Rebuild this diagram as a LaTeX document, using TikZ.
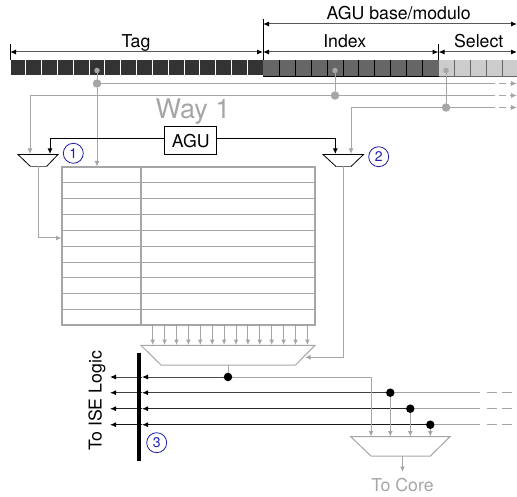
\documentclass[tikz,border=0pt]{standalone}
\usepackage{fontspec}
\setmainfont{TeX Gyre Heros}
\usetikzlibrary{arrows.meta}
\definecolor{wire}{gray}{0.65}
\definecolor{brk}{gray}{0.35}
\definecolor{numblue}{RGB}{30,30,170}
\tikzset{
  >={Latex[length=5.5pt,width=5pt]},
  lbl/.style={anchor=base,inner sep=0pt,font=\fontsize{17.7}{17.7}\selectfont},
  bracket/.style={brk,line width=1pt,{Latex[black,length=6pt,width=5pt]}-{Latex[black,length=6pt,width=5pt]}},
  tick/.style={black,line width=0.7pt},
  wireline/.style={wire,line width=1pt},
  wirearrow/.style={wire,line width=1pt,-{Latex[wire,length=5.5pt,width=5pt]}},
  ctrlarrow/.style={black,line width=1pt,-{Latex[black,length=5.5pt,width=5pt]}},
  dashtail/.style={wire,line width=1pt,dash pattern=on 10pt off 4pt on 7pt off 5pt},
  bigdot/.style={circle,fill=wire,inner sep=0pt,minimum size=8.5pt},
  smalldot/.style={circle,fill=wire,inner sep=0pt,minimum size=5.5pt},
  blackdot/.style={circle,fill=black,inner sep=0pt,minimum size=8.5pt},
  num/.style={circle,draw=numblue,line width=0.8pt,text=numblue,minimum size=20pt,inner sep=0pt,font=\fontsize{14}{14}\selectfont},
  muxg/.style={wire,line width=1pt,line join=miter},
}
\begin{document}
\begin{tikzpicture}[x=1pt,y=-1pt]
\useasboundingbox (0,0) rectangle (517,497);
% register cells
\foreach \i in {0,...,15}
  \fill[black!80] ({10.5+\i*15.83},60) rectangle ({10.5+\i*15.83+14.8},75.5);
\fill[black!60] (263,60) rectangle (438.5,76);
\foreach \i in {1,...,10}
  \draw[black,line width=0.5pt] ({263+\i*15.95},60) -- ({263+\i*15.95},76);
\fill[black!20] (438.5,60) rectangle (517,76);
\foreach \i in {1,...,4}
  \draw[black!60,line width=0.5pt] ({438.5+\i*15.9},60) -- ({438.5+\i*15.9},76);
\draw[black,line width=0.5pt] (263,76) -- (438.5,76);
\draw[black!60,line width=0.5pt] (438.5,76) -- (517,76);
% field brackets
\coordinate (b0) at (10,52); \coordinate (b1) at (263,52); \coordinate (b2) at (438.5,52); \coordinate (b3) at (517,52);
\coordinate (a1) at (263,24); \coordinate (a3) at (517,24);
\draw[tick] (10,44) -- (10,60);
\draw[tick] (263,19) -- (263,60);
\draw[tick] (438.5,44) -- (438.5,60);
\draw[bracket] (b0) -- (b1);
\draw[bracket] (b1) -- (b2);
\draw[bracket] (b2) -- (b3);
\draw[bracket] (a1) -- (a3);
\node[lbl] (tTag) at (136,48) {Tag};
\node[lbl] (tIndex) at (344.7,48) {Index};
\node[lbl] (tSelect) at (478.7,48) {Select};
\node[lbl] (tAgu) at (398.7,20) {AGU base/modulo};
\node[lbl,text=wire,font=\fontsize{27}{27}\selectfont] (tWay) at (193,119) {Way 1};
% dots on the address
\node[smalldot] (s1) at (97,70.5) {};
\node[smalldot] (s2) at (335,70.5) {};
\node[smalldot] (s3) at (446,70.5) {};
\node[bigdot] (d1) at (97,83.5) {};
\node[bigdot] (d2) at (335,95.5) {};
\node[bigdot] (d3) at (446,107.5) {};
% table
\coordinate (tabTL) at (62,167);
\coordinate (tabBR) at (315,325);
\foreach \i in {1,...,9}
  \draw[wire,line width=1pt] (62,{166.8+\i*15.87}) -- (315,{166.8+\i*15.87});
\draw[wire,line width=1.3pt] (tabTL) rectangle (tabBR);
\draw[wire,line width=1.3pt] (141,167) -- (141,325);
% muxes
\coordinate (m1a) at (18,154.5); \coordinate (m1b) at (58,154.5); \coordinate (m1c) at (46.5,166.5); \coordinate (m1d) at (30.5,166.5);
\draw[black,line width=0.8pt] (m1d) -- (m1a) -- (m1b) -- (m1c);
\draw[black!60,line width=0.8pt] (m1c) -- (m1d);
\coordinate (m2a) at (323,154.5); \coordinate (m2b) at (363.5,154.5); \coordinate (m2c) at (351,166.5); \coordinate (m2d) at (336,166.5);
\draw[black,line width=0.8pt] (m2d) -- (m2a) -- (m2b) -- (m2c);
\draw[black!60,line width=0.8pt] (m2c) -- (m2d);
\coordinate (m3a) at (141,345.3); \coordinate (m3b) at (315,345.3); \coordinate (m3c) at (295.5,365); \coordinate (m3d) at (161,365);
\draw[muxg] (m3a) -- (m3b) -- (m3c) -- (m3d) -- cycle;
\coordinate (m4a) at (350.7,436.7); \coordinate (m4b) at (450,436.7); \coordinate (m4c) at (430.3,456); \coordinate (m4d) at (371,456);
\draw[muxg] (m4a) -- (m4b) -- (m4c) -- (m4d) -- cycle;
% address wires
\coordinate (e1) at (485,83.5); \coordinate (f1) at (510,83.5); \coordinate (g1) at (517,83.5);
\coordinate (e2) at (485,95.5); \coordinate (f2) at (510,95.5); \coordinate (g2) at (517,95.5);
\coordinate (e3) at (485,107.5); \coordinate (f3) at (510,107.5); \coordinate (g3) at (517,107.5);
\draw[wireline] (s1) -- (d1);
\draw[wirearrow] (d1) -- (97,166.5);
\draw[wireline] (d1) -- (e1);
\draw[wireline] (s2) -- (d2);
\draw[wireline] (s3) -- (d3);
\draw[wirearrow] (e2) -- (30,95.5) -- (30,154);
\draw[wirearrow] (e3) -- (351,107.5) -- (351,154);
\foreach \n in {1,2,3} {
  \draw[dashtail] (e\n) -- (f\n);
  \draw[wire,line width=1pt,-{Latex[wire,length=6pt,width=5pt]}] (f\n) -- (g\n);
}
% AGU
\node[draw=black,line width=1pt,fill=white,minimum width=52pt,minimum height=28pt,inner sep=0pt,font=\fontsize{17.7}{17.7}\selectfont] (agu) at (190.7,141) {AGU};
\draw[ctrlarrow] (agu.west |- 0,139) -- (50,139) -- (50,154);
\draw[ctrlarrow] (agu.east |- 0,139) -- (335.3,139) -- (335.3,154);
% mux outputs
\draw[wirearrow] (38,166.5) -- (38,238) -- (61.5,238);
\draw[wirearrow] (343.5,166.5) -- (343.5,357.3) -- (305,357.3);
% data wires to read mux
\foreach \i in {0,...,13}
  \draw[wirearrow] ({152.7+\i*11.9},325) -- ({152.7+\i*11.9},345);
% ISE bar and lines
\coordinate (barT) at (139,352.7); \coordinate (barB) at (139,460.7);
\node[blackdot] (k1) at (228,377) {};
\node[blackdot] (k2) at (390.3,392.7) {};
\node[blackdot] (k3) at (410.3,408.7) {};
\node[blackdot] (k4) at (430.3,424.7) {};
\coordinate (l1) at (110,377); \coordinate (l2) at (110,392.7); \coordinate (l3) at (110,408.7); \coordinate (l4) at (110,424.7);
\coordinate (h1) at (142,377); \coordinate (h2) at (142,392.7); \coordinate (h3) at (142,408.7); \coordinate (h4) at (142,424.7);
\coordinate (r2) at (480,392.7); \coordinate (r3) at (480,408.7); \coordinate (r4) at (480,424.7);
\coordinate (q2) at (517,392.7); \coordinate (q3) at (517,408.7); \coordinate (q4) at (517,424.7);
\coordinate (c1) at (371,377);
\draw[wireline] (228,365) -- (k1);
\foreach \n/\c in {1/0.3,2/0.25,3/0.15,4/0.1} {
  \pgfmathsetmacro{\gv}{\c}
  \definecolor{ln}{gray}{\gv}
  \draw[ln,line width=1pt,-{Latex[black,length=6pt,width=5pt]}] (k\n) -- (h\n);
  \draw[ln,line width=1pt,-{Latex[black,length=6pt,width=5pt]}] (h\n) -- (l\n);
}
\foreach \n in {2,3,4} {
  \draw[wireline] (k\n) -- (r\n);
  \draw[wire,line width=1pt,dash pattern=on 10pt off 5pt on 10pt off 5pt] (r\n) ++(7,0) -- (q\n);
}
\draw[black,line width=4.5pt] (barT) -- (barB);
% inputs of final mux
\draw[wirearrow] (k1) -- (c1) -- (371,436.5);
\draw[wirearrow] (k2) -- (390.3,436.5);
\draw[wirearrow] (k3) -- (410.3,436.5);
\draw[wirearrow] (k4) -- (430.3,436.5);
\draw[wirearrow] (402.5,456) -- (402.5,472);
\node[lbl,text=wire] (tCore) at (402.5,491.5) {To Core};
\node[lbl,rotate=90] (tIse) at (101.7,401) {To ISE Logic};
% numbered marks
\node[num] (n1) at (73.3,153.3) {1};
\node[num] (n2) at (378.7,156.7) {2};
\node[num] (n3) at (156.7,442.7) {3};
\end{tikzpicture}
\end{document}
